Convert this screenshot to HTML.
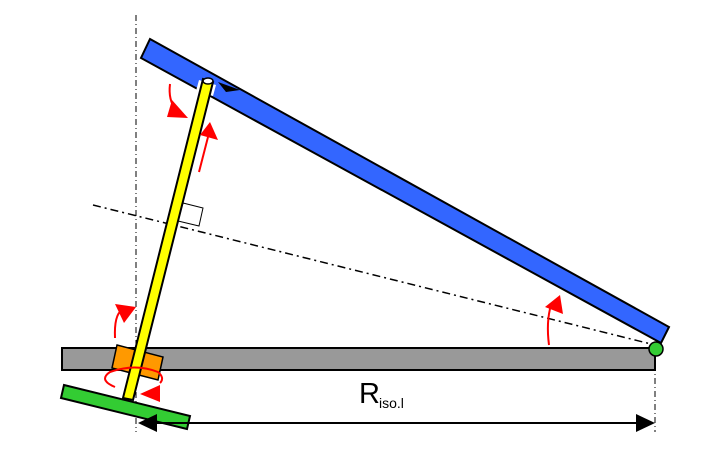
<!DOCTYPE html>
<html><head><style>html,body{margin:0;padding:0;background:#fff;}svg{display:block}</style></head>
<body>
<svg width="728" height="462" viewBox="0 0 728 462" xmlns="http://www.w3.org/2000/svg">
<line x1="136" y1="15" x2="136" y2="432" stroke="#000" stroke-width="1" stroke-dasharray="6,3,1,3"/>
<line x1="655" y1="352" x2="655" y2="432" stroke="#000" stroke-width="1" stroke-dasharray="6,3,1,3"/>
<line x1="93" y1="205" x2="655" y2="345" stroke="#000" stroke-width="1.5" stroke-dasharray="8,4,2,4"/>
<polygon points="183,203 203,208 199,226 178,221" fill="#fff" stroke="#000" stroke-width="1"/>
<rect x="62" y="348" width="593" height="22" fill="#999" stroke="#000" stroke-width="2"/>
<polygon points="150,39 669,327 661,343 141,58" fill="#3366ff" stroke="#000" stroke-width="2"/>
<polygon points="199,80 216,85 213,96 196,91" fill="#fff"/>
<polygon points="64,385 190,416 187,429 61,398" fill="#33cc33" stroke="#000" stroke-width="2"/>
<polygon points="117,345 163,357 158,380 112,368" fill="#ff9900" stroke="#000" stroke-width="1.5"/>
<polygon points="203,79 213,82 133,400 123,398" fill="#ffff00" stroke="#000" stroke-width="2"/>
<ellipse cx="208" cy="81" rx="5" ry="3" fill="#fff" stroke="#000" stroke-width="1.5"/>
<polygon points="218,82 240,90 226,92" fill="#000"/>
<circle cx="656" cy="349" r="7" fill="#33cc33" stroke="#000" stroke-width="1.5"/>
<g stroke="#f00" stroke-width="2" fill="none">
<path d="M170,84 Q168,100 176,110"/>
<path d="M199,172 L208,137"/>
<path d="M115,338 Q114,315 122,310"/>
<path d="M549,345 Q546,322 551,305"/>
<path d="M115,387 Q98,380 110,372 Q135,363 158,372 Q165,378 160,383"/>
</g>
<g fill="#f00">
<polygon points="172,100 167,117 188,118"/>
<polygon points="210,122 200,135 218,140"/>
<polygon points="115,304 136,307 124,323"/>
<polygon points="560,295 545,307 563,314"/>
<polygon points="160,385 140,394 160,402"/>
</g>
<line x1="148" y1="423" x2="645" y2="423" stroke="#000" stroke-width="2"/>
<polygon points="138,423 157,414 157,432" fill="#000"/>
<polygon points="655,423 636,414 636,432" fill="#000"/>
<text x="359" y="403" font-family="Liberation Sans, sans-serif" font-size="29" fill="#000">R</text>
<text x="379" y="408" font-family="Liberation Sans, sans-serif" font-size="14" fill="#000">iso.l</text>
</svg>
</body></html>
